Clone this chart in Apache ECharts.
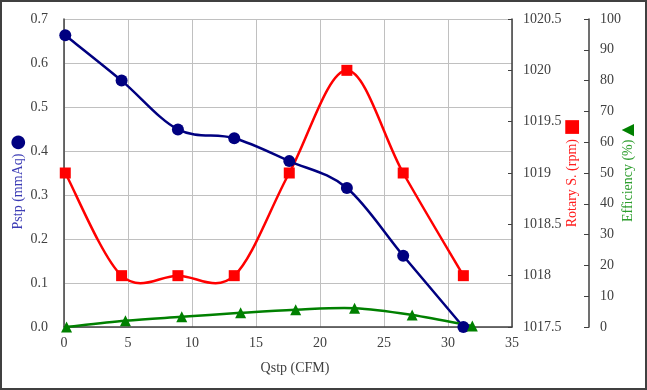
<!DOCTYPE html>
<html><head><meta charset="utf-8">
<script src="https://cdn.jsdelivr.net/npm/echarts@6/dist/echarts.min.js"></script>
<style>html,body{margin:0;padding:0;background:#fff}#c{width:647px;height:390px}</style>
</head><body><div id="c"></div>
<script>
// Data
var qstp = [0.1, 4.5, 8.9, 13.3, 17.6, 22.1, 26.5, 31.2];
var pstp = [0.663, 0.560, 0.449, 0.429, 0.377, 0.316, 0.162, 0.0];
var rotary = [1019.0, 1018.0, 1018.0, 1018.0, 1019.0, 1020.0, 1019.0, 1018.0];
var qstpEff = [0.2, 4.8, 9.2, 13.8, 18.1, 22.7, 27.2, 31.9];
var efficiency = [0.0, 2.0, 3.3, 4.6, 5.6, 6.1, 3.9, 0.3];

function pairs(xs, ys){ return xs.map(function(x,i){ return [x, ys[i]]; }); }

// Smoothed (Excel-like cardinal spline) line drawn through the axes via api.coord
function smoothSeries(xs, ys, axisIdx, color){
  return {
    type:'custom', yAxisIndex:axisIdx, data:pairs(xs, ys), z:2, silent:true,
    encode:{x:0, y:1},
    renderItem:function(params, api){
      var i = params.dataIndex, n = xs.length;
      if (i >= n-1) return null;
      var P = function(k){ k = Math.max(0, Math.min(n-1, k)); return api.coord([xs[k], ys[k]]); };
      var p0 = P(i-1), p1 = P(i), p2 = P(i+1), p3 = P(i+2);
      var t = 6;
      return {
        type:'bezierCurve',
        shape:{x1:p1[0], y1:p1[1], x2:p2[0], y2:p2[1],
               cpx1:p1[0]+(p2[0]-p0[0])/t, cpy1:p1[1]+(p2[1]-p0[1])/t,
               cpx2:p2[0]-(p3[0]-p1[0])/t, cpy2:p2[1]-(p3[1]-p1[1])/t},
        style:{stroke:color, lineWidth:2.5, fill:null}
      };
    }
  };
}

var serif = 'Liberation Serif';
var labelStyle = {color:'#404040', fontFamily:serif, fontSize:14};
var chart = echarts.init(document.getElementById('c'), null, {renderer:'canvas'});
chart.setOption({
  animation:false,
  backgroundColor:'#fff',
  grid:{left:64, right:135, top:19, bottom:63, containLabel:false, outerBoundsMode:'none'},
  xAxis:{
    type:'value', min:0, max:35, interval:5,
    name:'Qstp (CFM)', nameLocation:'middle', nameGap:34, nameMoveOverlap:false,
    nameTextStyle:{color:'#404040', fontFamily:serif, fontSize:14, padding:[0,0,0,14]},
    axisLine:{show:true, onZero:false, lineStyle:{color:'#404040', width:1.5}},
    axisTick:{show:false},
    axisLabel:Object.assign({margin:9}, labelStyle),
    splitLine:{show:true, lineStyle:{color:'#c0c0c0', width:1}}
  },
  yAxis:[
    {
      type:'value', min:0, max:0.7, interval:0.1, position:'left',
      name:'{t|Pstp (mmAq)} {m|●}', nameLocation:'middle', nameGap:37, nameRotate:90, nameMoveOverlap:false,
      nameTextStyle:{padding:[0,18,0,0], rich:{t:{color:'#3a3ab4', fontFamily:serif, fontSize:14}, m:{color:'#000080', fontFamily:'DejaVu Sans', fontSize:18}}},
      axisLine:{show:true, lineStyle:{color:'#404040', width:1.5}},
      axisTick:{show:false},
      axisLabel:Object.assign({margin:16, formatter:function(v){return v.toFixed(1);}}, labelStyle),
      splitLine:{show:true, lineStyle:{color:'#c0c0c0', width:1}}
    },
    {
      type:'value', min:1017.5, max:1020.5, interval:0.5, position:'right',
      name:'{t|Rotary S. (rpm)} {m|■}', nameLocation:'middle', nameGap:51, nameRotate:90, nameMoveOverlap:false,
      nameTextStyle:{rich:{t:{color:'#ff2020', fontFamily:serif, fontSize:14}, m:{color:'#ff0000', fontFamily:'DejaVu Sans', fontSize:18}}},
      axisLine:{show:true, lineStyle:{color:'#404040', width:1.5}},
      axisTick:{show:true, inside:true, length:4, lineStyle:{color:'#404040'}},
      axisLabel:Object.assign({margin:11, formatter:function(v){return String(v);}}, labelStyle),
      splitLine:{show:false}
    },
    {
      type:'value', min:0, max:100, interval:10, position:'right', offset:77,
      name:'{t|Efficiency (%)} {m|▲}', nameLocation:'middle', nameGap:31, nameRotate:90, nameMoveOverlap:false,
      nameTextStyle:{rich:{t:{color:'#2e9e2e', fontFamily:serif, fontSize:14}, m:{color:'#008000', fontFamily:'DejaVu Sans', fontSize:16}}},
      axisLine:{show:true, lineStyle:{color:'#404040', width:1.5}},
      axisTick:{show:true, inside:true, length:5, lineStyle:{color:'#404040'}},
      axisLabel:Object.assign({margin:11}, labelStyle),
      splitLine:{show:false}
    }
  ],
  series:[
    smoothSeries(qstp, rotary, 1, '#ff0000'),
    smoothSeries(qstp, pstp, 0, '#000080'),
    smoothSeries(qstpEff, efficiency, 2, '#008000'),
    {type:'line', yAxisIndex:1, data:pairs(qstp, rotary), clip:false, z:3,
     symbol:'rect', symbolSize:11, lineStyle:{width:0, opacity:0}, itemStyle:{color:'#ff0000'}},
    {type:'line', yAxisIndex:0, data:pairs(qstp, pstp), clip:false, z:3,
     symbol:'circle', symbolSize:12, lineStyle:{width:0, opacity:0}, itemStyle:{color:'#000080'}},
    {type:'line', yAxisIndex:2, data:pairs(qstpEff, efficiency), clip:false, z:3,
     symbol:'triangle', symbolSize:11, lineStyle:{width:0, opacity:0}, itemStyle:{color:'#008000'}}
  ],
  graphic:[{type:'rect', shape:{x:1, y:1, width:645, height:388}, style:{fill:'none', stroke:'#404040', lineWidth:2}, silent:true}]
});
</script></body></html>
